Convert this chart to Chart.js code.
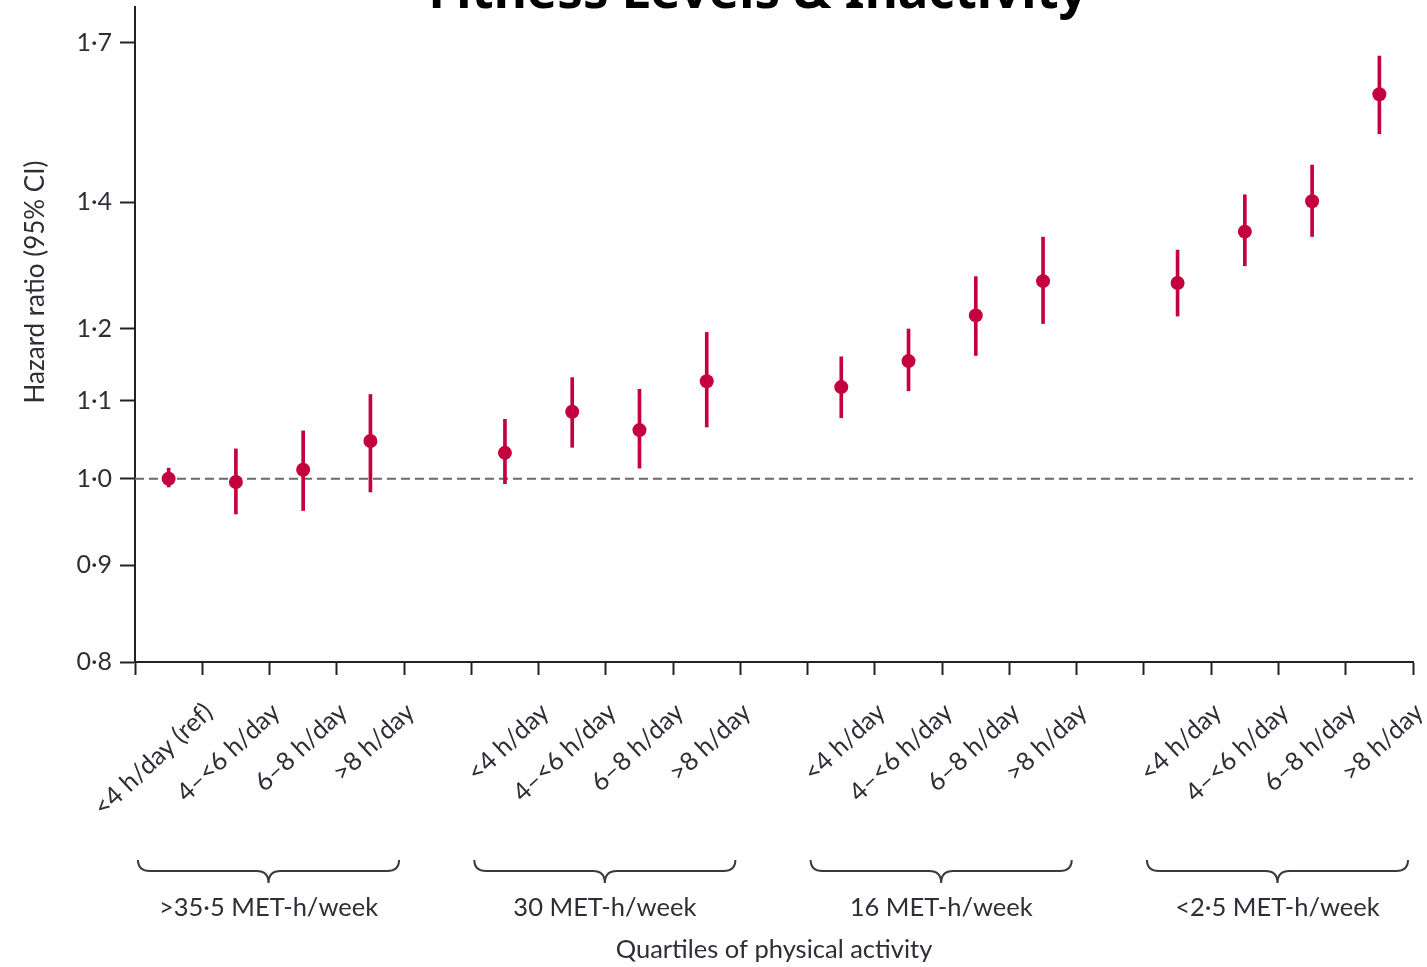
<!DOCTYPE html>
<html>
<head>
<meta charset="utf-8">
<script src="https://cdn.jsdelivr.net/npm/chart.js@4/dist/chart.umd.min.js"></script>
<style>
  html, body { margin: 0; padding: 0; background: #ffffff; overflow: hidden; }
  #wrap { position: absolute; left: 0; top: 0; width: 1427px; height: 967px; }
</style>
</head>
<body>
<div id="wrap"><canvas id="c" width="1427" height="967"></canvas></div>
<script>
// ---- data ----
const titleText = "Fitness Levels & Inactivity";
const groups = [">35·5 MET-h/week", "30 MET-h/week", "16 MET-h/week", "<2·5 MET-h/week"];
const sittingLevels = [
  ["<4 h/day (ref)", "4–<6 h/day", "6–8 h/day", ">8 h/day"],
  ["<4 h/day", "4–<6 h/day", "6–8 h/day", ">8 h/day"],
  ["<4 h/day", "4–<6 h/day", "6–8 h/day", ">8 h/day"],
  ["<4 h/day", "4–<6 h/day", "6–8 h/day", ">8 h/day"]
];
const hazardRatio = [1.000, 0.996, 1.011, 1.047,  1.032, 1.085, 1.061, 1.126,  1.118, 1.154, 1.220, 1.272,  1.269, 1.351, 1.402, 1.597];
const ciLower     = [0.990, 0.958, 0.962, 0.984,  0.994, 1.039, 1.013, 1.065,  1.077, 1.113, 1.162, 1.208,  1.219, 1.296, 1.343, 1.522];
const ciUpper     = [1.013, 1.037, 1.060, 1.108,  1.075, 1.131, 1.115, 1.195,  1.160, 1.200, 1.279, 1.342,  1.321, 1.413, 1.465, 1.673];
const yTickValues = [0.8, 0.9, 1.0, 1.1, 1.2, 1.4, 1.7];
const yMin = 0.8, yMax = 1.776;
const referenceValue = 1.0;
const xTitle = "Quartiles of physical activity";
const yTitle = "Hazard ratio (95% CI)";

// ---- build category table with an empty slot between groups ----
const labels = [], points = [], bars = [], groupSpans = [];
let k = 0;
groups.forEach((g, gi) => {
  if (gi > 0) { labels.push(""); points.push(null); bars.push(null); }
  const start = labels.length;
  sittingLevels[gi].forEach(lv => {
    labels.push(lv);
    points.push(hazardRatio[k]);
    bars.push([ciLower[k], ciUpper[k]]);
    k++;
  });
  groupSpans.push({ label: g, first: start, last: labels.length - 1 });
});

const RED = '#c4003f';
const INK = '#2e2e36';
const FONT = 'Lato, "Noto Sans", sans-serif';

const decor = {
  id: 'decor',
  beforeDatasetsDraw(chart) {
    const { ctx, chartArea, scales } = chart;
    const y = scales.y.getPixelForValue(referenceValue);
    ctx.save();
    ctx.strokeStyle = '#6a6a6a';
    ctx.lineWidth = 1.8;
    ctx.setLineDash([9, 5]);
    ctx.beginPath();
    ctx.moveTo(chartArea.left, y);
    ctx.lineTo(chartArea.right, y);
    ctx.stroke();
    ctx.restore();
  },
  afterDraw(chart) {
    const { ctx, chartArea, scales } = chart;
    const xs = scales.x;
    const half = (xs.getPixelForValue(1) - xs.getPixelForValue(0)) / 2;
    const base = chartArea.bottom;
    const yTop = base + 198, yMid = base + 209, yTip = base + 221;
    ctx.save();
    ctx.strokeStyle = '#3a3a3a';
    ctx.lineWidth = 2;
    groupSpans.forEach(sp => {
      const L = xs.getPixelForValue(sp.first) - half + 3;
      const R = xs.getPixelForValue(sp.last) + half - 5;
      const C = (L + R) / 2;
      ctx.beginPath();
      ctx.moveTo(L, yTop);
      ctx.quadraticCurveTo(L, yMid, L + 12, yMid);
      ctx.lineTo(C - 12, yMid);
      ctx.quadraticCurveTo(C, yMid, C, yTip);
      ctx.quadraticCurveTo(C, yMid, C + 12, yMid);
      ctx.lineTo(R - 12, yMid);
      ctx.quadraticCurveTo(R, yMid, R, yTop);
      ctx.stroke();
      ctx.fillStyle = INK;
      ctx.font = '25.5px ' + FONT;
      ctx.textAlign = 'center';
      ctx.textBaseline = 'middle';
      ctx.fillText(sp.label, C, base + 246);
    });
    // y-axis title
    ctx.save();
    ctx.translate(36, 282);
    ctx.rotate(-Math.PI / 2);
    ctx.fillStyle = INK;
    ctx.font = '26px ' + FONT;
    ctx.textAlign = 'center';
    ctx.textBaseline = 'middle';
    ctx.fillText(yTitle, 0, 0);
    ctx.restore();
    // chart title (partly above the visible page, as in the reference)
    ctx.fillStyle = '#000000';
    ctx.font = 'bold 51px "Noto Sans", sans-serif';
    ctx.textAlign = 'center';
    ctx.textBaseline = 'alphabetic';
    ctx.fillText(titleText, 758, 8);
    ctx.restore();
  }
};

new Chart(document.getElementById('c'), {
  type: 'bar',
  data: {
    labels: labels,
    datasets: [
      {
        type: 'line',
        label: 'Hazard ratio',
        data: points,
        showLine: false,
        pointRadius: 7,
        pointBackgroundColor: RED,
        pointBorderWidth: 0,
        order: 0
      },
      {
        type: 'bar',
        label: '95% CI',
        data: bars,
        backgroundColor: RED,
        borderWidth: 0,
        barThickness: 3,
        grouped: false,
        order: 1
      }
    ]
  },
  options: {
    responsive: false,
    animation: false,
    devicePixelRatio: 1,
    layout: { padding: { top: 6, right: 14, bottom: 0, left: 0 } },
    plugins: { legend: { display: false }, tooltip: { enabled: false }, title: { display: false } },
    scales: {
      x: {
        type: 'category',
        offset: true,
        grid: { offset: true, drawOnChartArea: false, drawTicks: true, tickLength: 13, tickColor: '#222', tickWidth: 2 },
        border: { display: true, color: '#222', width: 2 },
        ticks: {
          autoSkip: false,
          minRotation: 43,
          maxRotation: 43,
          labelOffset: 40,
          padding: 22,
          color: INK,
          font: { family: FONT, size: 25.5 }
        },
        title: { display: true, text: xTitle, color: INK, font: { family: FONT, size: 25.5 }, padding: { top: 0, bottom: 2 } },
        afterFit(scale) { scale.height = 305; scale.paddingLeft = 0; scale.paddingRight = 0; }
      },
      y: {
        type: 'logarithmic',
        min: yMin,
        max: yMax,
        afterBuildTicks(scale) { scale.ticks = yTickValues.map(v => ({ value: v })); },
        grid: { drawOnChartArea: false, drawTicks: true, tickLength: 15, tickColor: '#222', tickWidth: 2 },
        border: { display: true, color: '#222', width: 2 },
        ticks: {
          autoSkip: false,
          padding: 8,
          color: INK,
          font: { family: FONT, size: 25 },
          callback: v => Number(v).toFixed(1).replace('.', '·')
        },
        afterFit(scale) { scale.width = 135; scale.paddingTop = 0; scale.paddingBottom = 0; }
      }
    }
  },
  plugins: [decor]
});
</script>
</body>
</html>
